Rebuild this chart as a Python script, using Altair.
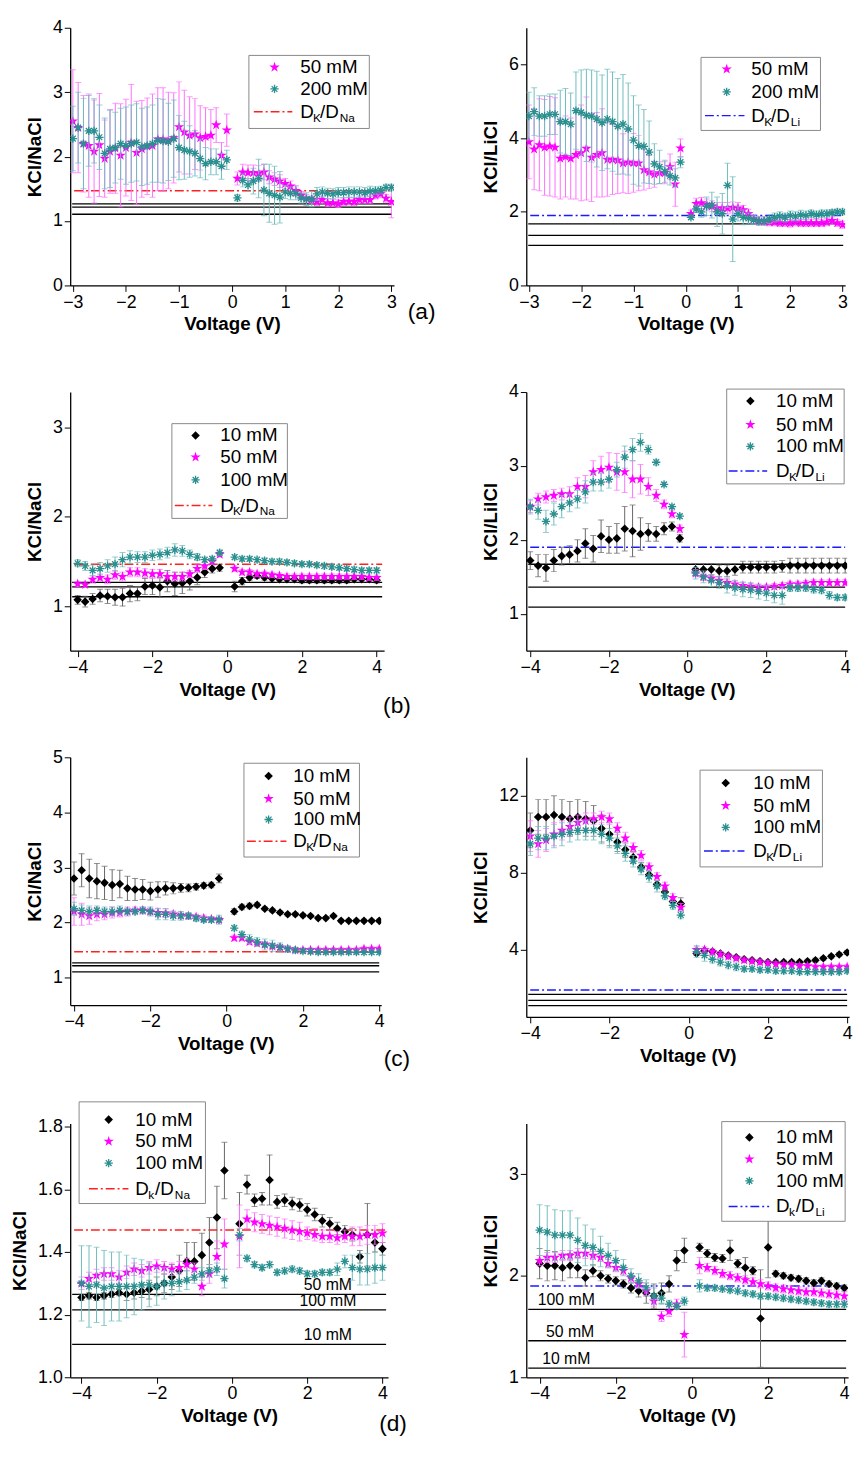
import altair as alt
import pandas as pd

# voltage samples
XA = [round(-3.0 + 0.1 * i, 1) for i in range(30)] + [round(0.1 + 0.1 * i, 1) for i in range(30)]
XB = [round(-4.0 + 0.2 * i, 1) for i in range(20)] + [round(0.2 + 0.2 * i, 1) for i in range(20)]

# ---- (a) KCl/NaCl
a_l_50 = [2.55, 2.45, 2.20, 2.17, 2.08, 2.18, 1.97, 2.08, 2.13, 2.02, 2.14, 2.22, 2.06, 2.12, 2.16,
          2.17, 2.27, 2.27, 2.25, 2.29, 2.46, 2.38, 2.33, 2.35, 2.29, 2.31, 2.33, 2.49, 2.02, 2.41,
          1.66, 1.76, 1.75, 1.75, 1.74, 1.76, 1.68, 1.65, 1.62, 1.58, 1.54, 1.47, 1.40, 1.35, 1.33,
          1.30, 1.33, 1.28, 1.28, 1.27, 1.30, 1.31, 1.30, 1.33, 1.33, 1.33, 1.40, 1.42, 1.35, 1.30]
a_l_50e = [0.80, 0.70, 0.75, 0.80, 0.80, 0.80, 0.60, 0.65, 0.70, 0.80, 0.75, 0.90, 0.80, 0.75, 0.75,
           0.80, 0.80, 0.80, 0.75, 0.70, 0.70, 0.65, 0.60, 0.55, 0.50, 0.45, 0.40, 0.27, 0.20, 0.25,
           0.10, 0.12, 0.12, 0.12, 0.12, 0.12, 0.10, 0.10, 0.10, 0.08, 0.08, 0.08, 0.06, 0.06, 0.06,
           0.06, 0.06, 0.06, 0.06, 0.06, 0.06, 0.06, 0.06, 0.06, 0.06, 0.06, 0.06, 0.06, 0.06, 0.25]
a_l_200 = [2.28, 2.45, 2.20, 2.40, 2.40, 2.30, 2.05, 2.12, 2.14, 2.20, 2.17, 2.20, 2.22, 2.15, 2.17,
           2.20, 2.25, 2.24, 2.23, 2.28, 2.14, 2.10, 2.08, 2.05, 1.97, 1.89, 1.92, 1.92, 1.85, 1.95,
           1.36, 1.63, 1.56, 1.62, 1.66, 1.48, 1.43, 1.40, 1.37, 1.45, 1.43, 1.43, 1.36, 1.34, 1.34,
           1.42, 1.45, 1.43, 1.42, 1.44, 1.44, 1.45, 1.45, 1.45, 1.44, 1.46, 1.47, 1.48, 1.52, 1.52]
a_l_200e = [0.50, 0.55, 0.70, 0.55, 0.50, 0.50, 0.55, 0.60, 0.55, 0.55, 0.60, 0.60, 0.60, 0.60, 0.60,
            0.60, 0.65, 0.65, 0.60, 0.60, 0.50, 0.45, 0.40, 0.35, 0.30, 0.25, 0.20, 0.20, 0.20, 0.15,
            0.05, 0.10, 0.10, 0.20, 0.30, 0.40, 0.45, 0.45, 0.40, 0.10, 0.10, 0.10, 0.08, 0.10, 0.12,
            0.10, 0.08, 0.08, 0.08, 0.08, 0.08, 0.08, 0.08, 0.08, 0.08, 0.08, 0.06, 0.06, 0.05, 0.05]
# ---- (a) KCl/LiCl
a_r_50 = [3.90, 3.70, 3.82, 3.75, 3.78, 3.75, 3.45, 3.50, 3.45, 3.55, 3.60, 3.72, 3.48, 3.55, 3.60,
          3.42, 3.42, 3.40, 3.32, 3.35, 3.33, 3.32, 3.14, 3.08, 3.02, 3.06, 3.06, 3.22, 2.75, 3.73,
          1.95, 2.22, 2.24, 2.20, 2.15, 2.10, 2.10, 2.10, 2.12, 2.10, 2.05, 1.95, 1.80, 1.76, 1.75,
          1.72, 1.72, 1.70, 1.70, 1.69, 1.72, 1.70, 1.70, 1.70, 1.70, 1.70, 1.72, 1.76, 1.70, 1.65]
a_r_50e = [1.00, 1.10, 1.25, 1.30, 1.35, 1.35, 1.10, 1.10, 1.10, 1.20, 1.30, 1.40, 1.20, 1.15, 1.20,
           1.00, 0.95, 0.90, 0.80, 0.85, 0.80, 0.75, 0.55, 0.45, 0.35, 0.30, 0.30, 0.35, 0.60, 0.25,
           0.10, 0.15, 0.15, 0.15, 0.15, 0.15, 0.15, 0.15, 0.15, 0.15, 0.12, 0.12, 0.12, 0.10, 0.10,
           0.10, 0.10, 0.10, 0.10, 0.10, 0.10, 0.10, 0.10, 0.10, 0.10, 0.10, 0.10, 0.10, 0.10, 0.10]
a_r_200 = [4.60, 4.72, 4.60, 4.60, 4.65, 4.65, 4.45, 4.45, 4.38, 4.75, 4.70, 4.62, 4.60, 4.52, 4.42,
           4.52, 4.45, 4.32, 4.38, 4.25, 3.95, 3.80, 3.78, 3.62, 3.30, 3.22, 3.10, 2.98, 2.92, 3.35,
           1.85, 2.08, 2.00, 2.15, 2.18, 2.00, 1.95, 2.72, 1.80, 1.95, 1.85, 1.82, 1.78, 1.75, 1.75,
           1.80, 1.85, 1.88, 1.85, 1.90, 1.88, 1.92, 1.90, 1.95, 1.92, 1.95, 1.95, 1.98, 2.00, 2.00]
a_r_200e = [0.65, 0.65, 0.55, 0.55, 0.55, 0.55, 0.85, 0.90, 0.85, 1.05, 1.15, 1.25, 1.25, 1.30, 1.30,
            1.35, 1.35, 1.30, 1.35, 1.25, 1.20, 1.10, 1.00, 0.85, 0.55, 0.45, 0.30, 0.25, 0.25, 0.15,
            0.05, 0.10, 0.15, 0.25, 0.35, 0.40, 0.55, 0.60, 1.15, 0.20, 0.20, 0.15, 0.12, 0.12, 0.12,
            0.12, 0.12, 0.12, 0.12, 0.12, 0.12, 0.12, 0.12, 0.10, 0.10, 0.10, 0.10, 0.08, 0.08, 0.08]

# ---- (b) KCl/NaCl
b_l_10 = [1.07, 1.05, 1.08, 1.12, 1.11, 1.10, 1.10, 1.14, 1.14, 1.22, 1.23, 1.21, 1.28, 1.25, 1.26,
          1.28, 1.32, 1.38, 1.42, 1.43, 1.22, 1.28, 1.32, 1.34, 1.32, 1.31, 1.30, 1.30, 1.30, 1.29,
          1.29, 1.29, 1.29, 1.29, 1.29, 1.29, 1.30, 1.30, 1.30, 1.29]
b_l_10e = [0.05, 0.06, 0.06, 0.07, 0.08, 0.09, 0.10, 0.09, 0.08, 0.09, 0.10, 0.11, 0.12, 0.13, 0.12,
           0.10, 0.08, 0.06, 0.05, 0.04, 0.06, 0.04, 0.03, 0.03, 0.03, 0.03, 0.03, 0.03, 0.03, 0.03,
           0.03, 0.03, 0.03, 0.03, 0.03, 0.03, 0.03, 0.03, 0.03, 0.03]
b_l_50 = [1.25, 1.24, 1.30, 1.32, 1.30, 1.35, 1.33, 1.38, 1.38, 1.37, 1.36, 1.36, 1.33, 1.33, 1.33,
          1.36, 1.42, 1.45, 1.50, 1.58, 1.42, 1.38, 1.38, 1.36, 1.36, 1.35, 1.34, 1.33, 1.33, 1.33,
          1.33, 1.33, 1.33, 1.33, 1.33, 1.33, 1.33, 1.33, 1.32, 1.32]
b_l_50e = [0.03, 0.03, 0.04, 0.04, 0.05, 0.05, 0.05, 0.05, 0.05, 0.05, 0.05, 0.05, 0.05, 0.05, 0.05,
           0.04, 0.04, 0.04, 0.03, 0.03, 0.03, 0.03, 0.03, 0.03, 0.03, 0.03, 0.03, 0.03, 0.03, 0.03,
           0.03, 0.03, 0.03, 0.03, 0.03, 0.03, 0.03, 0.03, 0.03, 0.03]
b_l_100 = [1.48, 1.45, 1.40, 1.42, 1.45, 1.47, 1.52, 1.55, 1.55, 1.55, 1.57, 1.58, 1.60, 1.63, 1.62,
           1.58, 1.55, 1.52, 1.53, 1.60, 1.55, 1.53, 1.53, 1.52, 1.51, 1.50, 1.50, 1.49, 1.48, 1.47,
           1.47, 1.46, 1.45, 1.44, 1.43, 1.42, 1.41, 1.40, 1.40, 1.40]
b_l_100e = [0.04, 0.05, 0.06, 0.07, 0.07, 0.08, 0.08, 0.07, 0.06, 0.06, 0.06, 0.06, 0.06, 0.07, 0.06,
            0.05, 0.04, 0.03, 0.03, 0.03, 0.03, 0.03, 0.03, 0.03, 0.03, 0.03, 0.03, 0.03, 0.03, 0.03,
            0.03, 0.03, 0.03, 0.03, 0.03, 0.03, 0.03, 0.03, 0.03, 0.03]
# ---- (b) KCl/LiCl
b_r_10 = [1.72, 1.65, 1.62, 1.72, 1.78, 1.80, 1.85, 1.95, 1.88, 2.05, 2.00, 2.02, 2.15, 2.12, 2.08,
          2.10, 2.08, 2.15, 2.18, 2.02, 1.60, 1.60, 1.60, 1.58, 1.58, 1.60, 1.63, 1.63, 1.63, 1.63,
          1.63, 1.64, 1.65, 1.65, 1.65, 1.65, 1.65, 1.65, 1.65, 1.65]
b_r_10e = [0.12, 0.15, 0.18, 0.15, 0.12, 0.12, 0.15, 0.20, 0.18, 0.22, 0.18, 0.20, 0.30, 0.35, 0.22,
           0.12, 0.10, 0.08, 0.06, 0.05, 0.08, 0.08, 0.08, 0.08, 0.08, 0.08, 0.08, 0.08, 0.08, 0.08,
           0.08, 0.08, 0.10, 0.10, 0.10, 0.10, 0.10, 0.10, 0.10, 0.10]
b_r_50 = [2.45, 2.55, 2.58, 2.60, 2.62, 2.62, 2.72, 2.72, 2.92, 2.95, 2.98, 2.92, 2.92, 2.82, 2.82,
          2.72, 2.60, 2.48, 2.35, 2.15, 1.55, 1.50, 1.48, 1.45, 1.42, 1.40, 1.38, 1.37, 1.36, 1.36,
          1.37, 1.38, 1.40, 1.40, 1.41, 1.42, 1.42, 1.42, 1.42, 1.42]
b_r_50e = [0.08, 0.08, 0.08, 0.08, 0.08, 0.10, 0.12, 0.15, 0.15, 0.18, 0.20, 0.25, 0.28, 0.25, 0.20,
           0.12, 0.08, 0.06, 0.05, 0.05, 0.05, 0.05, 0.05, 0.05, 0.04, 0.04, 0.04, 0.04, 0.04, 0.04,
           0.04, 0.04, 0.04, 0.04, 0.04, 0.04, 0.04, 0.04, 0.04, 0.04]
b_r_100 = [2.45, 2.40, 2.25, 2.35, 2.45, 2.50, 2.55, 2.65, 2.78, 2.78, 2.82, 2.95, 3.12, 3.22, 3.32,
           3.22, 3.05, 2.75, 2.45, 2.32, 1.55, 1.50, 1.45, 1.42, 1.38, 1.35, 1.33, 1.32, 1.30, 1.28,
           1.25, 1.25, 1.35, 1.35, 1.35, 1.33, 1.32, 1.25, 1.22, 1.22]
b_r_100e = [0.10, 0.12, 0.15, 0.15, 0.15, 0.12, 0.12, 0.15, 0.12, 0.12, 0.12, 0.10, 0.15, 0.15, 0.12,
            0.06, 0.04, 0.03, 0.03, 0.03, 0.08, 0.08, 0.08, 0.08, 0.10, 0.10, 0.10, 0.10, 0.10, 0.10,
            0.10, 0.12, 0.05, 0.05, 0.05, 0.05, 0.05, 0.05, 0.04, 0.04]

# ---- (c) KCl/NaCl
c_l_10 = [2.80, 2.95, 2.80, 2.75, 2.72, 2.68, 2.70, 2.62, 2.60, 2.60, 2.57, 2.60, 2.62, 2.62, 2.63,
          2.63, 2.65, 2.67, 2.68, 2.80, 2.20, 2.28, 2.30, 2.32, 2.25, 2.22, 2.18, 2.15, 2.15, 2.13,
          2.12, 2.08, 2.08, 2.12, 2.03, 2.03, 2.03, 2.03, 2.03, 2.03]
c_l_10e = [0.30, 0.30, 0.35, 0.32, 0.30, 0.28, 0.25, 0.22, 0.20, 0.18, 0.16, 0.14, 0.12, 0.10, 0.08,
           0.07, 0.06, 0.05, 0.05, 0.08, 0.05, 0.05, 0.05, 0.04, 0.03, 0.03, 0.03, 0.03, 0.03, 0.03,
           0.03, 0.03, 0.03, 0.03, 0.03, 0.03, 0.03, 0.03, 0.03, 0.03]
c_l_50 = [2.20, 2.15, 2.12, 2.15, 2.15, 2.18, 2.18, 2.20, 2.22, 2.22, 2.20, 2.18, 2.17, 2.15, 2.13,
          2.12, 2.10, 2.08, 2.06, 2.05, 1.72, 1.72, 1.65, 1.62, 1.60, 1.57, 1.55, 1.52, 1.50, 1.50,
          1.50, 1.50, 1.50, 1.50, 1.50, 1.50, 1.50, 1.52, 1.52, 1.52]
c_l_50e = [0.25, 0.20, 0.15, 0.12, 0.10, 0.10, 0.08, 0.08, 0.06, 0.06, 0.06, 0.08, 0.08, 0.06, 0.06,
           0.05, 0.05, 0.05, 0.05, 0.05, 0.05, 0.05, 0.05, 0.05, 0.05, 0.05, 0.05, 0.04, 0.04, 0.04,
           0.04, 0.04, 0.04, 0.04, 0.04, 0.04, 0.04, 0.04, 0.04, 0.04]
c_l_100 = [2.25, 2.22, 2.20, 2.22, 2.20, 2.20, 2.22, 2.20, 2.20, 2.22, 2.20, 2.15, 2.15, 2.12, 2.12,
           2.12, 2.08, 2.05, 2.05, 2.05, 1.90, 1.78, 1.70, 1.65, 1.60, 1.58, 1.55, 1.52, 1.50, 1.48,
           1.47, 1.46, 1.46, 1.46, 1.46, 1.46, 1.46, 1.46, 1.46, 1.46]
c_l_100e = [0.12, 0.10, 0.10, 0.08, 0.08, 0.08, 0.08, 0.06, 0.06, 0.06, 0.08, 0.10, 0.10, 0.08, 0.08,
            0.06, 0.06, 0.05, 0.05, 0.08, 0.05, 0.06, 0.08, 0.08, 0.10, 0.10, 0.08, 0.06, 0.05, 0.04,
            0.04, 0.04, 0.04, 0.04, 0.04, 0.04, 0.04, 0.04, 0.04, 0.04]
# ---- (c) KCl/LiCl
c_r_10 = [10.2, 10.9, 10.9, 11.0, 10.9, 10.8, 10.9, 10.8, 10.7, 10.3, 10.0, 9.6, 9.2, 8.8, 8.3,
          7.9, 7.4, 7.0, 6.5, 6.4, 3.8, 3.95, 3.9, 3.8, 3.7, 3.6, 3.5, 3.45, 3.4, 3.35,
          3.35, 3.35, 3.35, 3.35, 3.4, 3.45, 3.55, 3.65, 3.75, 3.85]
c_r_10e = [0.9, 0.9, 0.9, 1.0, 0.9, 0.9, 0.9, 0.9, 0.8, 0.7, 0.6, 0.5, 0.4, 0.3, 0.25,
           0.2, 0.2, 0.2, 0.2, 0.3, 0.1, 0.1, 0.1, 0.1, 0.1, 0.1, 0.1, 0.1, 0.1, 0.1,
           0.1, 0.1, 0.1, 0.1, 0.1, 0.1, 0.1, 0.1, 0.1, 0.1]
c_r_50 = [9.9, 9.5, 9.7, 10.0, 10.2, 10.4, 10.6, 10.7, 10.8, 10.9, 10.8, 10.3, 9.8, 9.3, 8.9,
          8.3, 7.8, 7.3, 6.7, 6.2, 4.0, 4.0, 3.9, 3.75, 3.65, 3.55, 3.45, 3.4, 3.35, 3.3,
          3.25, 3.2, 3.2, 3.15, 3.15, 3.1, 3.1, 3.1, 3.1, 3.1]
c_r_50e = [0.8, 0.7, 0.6, 0.6, 0.5, 0.5, 0.4, 0.4, 0.3, 0.3, 0.3, 0.3, 0.3, 0.25, 0.25,
           0.2, 0.2, 0.2, 0.2, 0.2, 0.15, 0.15, 0.15, 0.15, 0.12, 0.12, 0.12, 0.12, 0.12, 0.12,
           0.12, 0.12, 0.12, 0.12, 0.12, 0.12, 0.12, 0.12, 0.12, 0.12]
c_r_100 = [9.5, 9.8, 9.8, 9.9, 10.0, 10.1, 10.2, 10.2, 10.2, 10.0, 9.8, 9.4, 9.0, 8.6, 8.2,
           7.8, 7.3, 6.8, 6.3, 5.8, 3.9, 3.7, 3.5, 3.35, 3.2, 3.1, 3.0, 3.0, 2.95, 2.95,
           2.9, 2.9, 2.9, 2.85, 2.85, 2.85, 2.85, 2.85, 2.85, 2.9]
c_r_100e = [0.6, 0.6, 0.6, 0.6, 0.6, 0.5, 0.5, 0.5, 0.5, 0.5, 0.5, 0.4, 0.4, 0.3, 0.3,
            0.3, 0.3, 0.2, 0.2, 0.2, 0.3, 0.3, 0.2, 0.2, 0.2, 0.2, 0.15, 0.15, 0.15, 0.15,
            0.15, 0.15, 0.15, 0.15, 0.15, 0.15, 0.15, 0.15, 0.15, 0.15]

# ---- (d) KCl/NaCl
d_l_10 = [1.255, 1.26, 1.255, 1.26, 1.265, 1.27, 1.265, 1.27, 1.275, 1.28, 1.29, 1.30, 1.32, 1.34, 1.37,
          1.37, 1.39, 1.43, 1.51, 1.66, 1.49, 1.615, 1.565, 1.57, 1.63, 1.56, 1.565, 1.555, 1.55, 1.535,
          1.52, 1.50, 1.49, 1.475, 1.465, 1.455, 1.385, 1.455, 1.43, 1.41]
d_l_10e = [0.01, 0.01, 0.01, 0.01, 0.01, 0.01, 0.02, 0.02, 0.02, 0.03, 0.03, 0.03, 0.04, 0.05, 0.06,
           0.06, 0.07, 0.08, 0.10, 0.09, 0.10, 0.03, 0.02, 0.02, 0.08, 0.02, 0.02, 0.02, 0.02, 0.02,
           0.02, 0.02, 0.02, 0.02, 0.02, 0.02, 0.02, 0.10, 0.03, 0.02]
d_l_50 = [1.30, 1.315, 1.325, 1.33, 1.33, 1.32, 1.335, 1.345, 1.34, 1.35, 1.355, 1.35, 1.345, 1.35, 1.36,
          1.345, 1.29, 1.33, 1.385, 1.425, 1.45, 1.505, 1.495, 1.49, 1.485, 1.48, 1.475, 1.47, 1.465, 1.46,
          1.455, 1.45, 1.45, 1.445, 1.45, 1.45, 1.45, 1.455, 1.455, 1.46]
d_l_50e = [0.02, 0.02, 0.02, 0.02, 0.02, 0.02, 0.02, 0.02, 0.02, 0.02, 0.02, 0.02, 0.02, 0.02, 0.02,
           0.02, 0.03, 0.03, 0.05, 0.08, 0.10, 0.03, 0.03, 0.03, 0.03, 0.03, 0.03, 0.03, 0.03, 0.02,
           0.02, 0.02, 0.02, 0.02, 0.02, 0.03, 0.03, 0.03, 0.03, 0.03]
d_l_100 = [1.30, 1.29, 1.295, 1.285, 1.29, 1.29, 1.29, 1.29, 1.295, 1.295, 1.29, 1.30, 1.30, 1.305, 1.31,
           1.32, 1.33, 1.34, 1.345, 1.315, 1.455, 1.38, 1.36, 1.35, 1.36, 1.335, 1.34, 1.345, 1.34, 1.33,
           1.33, 1.335, 1.335, 1.345, 1.37, 1.35, 1.345, 1.345, 1.35, 1.35]
d_l_100e = [0.12, 0.13, 0.12, 0.12, 0.11, 0.11, 0.10, 0.09, 0.08, 0.07, 0.06, 0.05, 0.04, 0.03, 0.03,
            0.02, 0.02, 0.02, 0.02, 0.03, 0.02, 0.01, 0.01, 0.01, 0.01, 0.01, 0.01, 0.01, 0.01, 0.01,
            0.01, 0.01, 0.01, 0.02, 0.02, 0.04, 0.05, 0.05, 0.05, 0.04]
# ---- (d) KCl/LiCl
d_r_10 = [2.12, 2.10, 2.10, 2.08, 2.10, 2.08, 1.98, 2.05, 2.00, 1.97, 1.95, 1.92, 1.88, 1.85, 1.83,
          1.80, 1.83, 1.92, 2.15, 2.25, 2.28, 2.22, 2.18, 2.17, 2.25, 2.12, 2.08, 2.05, 1.58, 2.28,
          2.02, 2.00, 1.98, 1.97, 1.95, 1.93, 1.95, 1.92, 1.90, 1.88]
d_r_10e = [0.15, 0.15, 0.14, 0.13, 0.12, 0.10, 0.08, 0.06, 0.05, 0.04, 0.04, 0.04, 0.05, 0.06, 0.10,
           0.12, 0.10, 0.08, 0.10, 0.12, 0.04, 0.04, 0.04, 0.04, 0.10, 0.04, 0.10, 0.04, 0.48, 0.30,
           0.03, 0.03, 0.03, 0.03, 0.03, 0.03, 0.03, 0.03, 0.03, 0.03]
d_r_50 = [2.15, 2.18, 2.18, 2.20, 2.20, 2.22, 2.22, 2.20, 2.18, 2.12, 2.08, 2.05, 1.98, 1.92, 1.85,
          1.75, 1.60, 1.65, 1.72, 1.42, 2.10, 2.08, 2.05, 2.02, 2.00, 1.98, 1.96, 1.94, 1.92, 1.90,
          1.88, 1.87, 1.86, 1.85, 1.84, 1.84, 1.83, 1.82, 1.81, 1.80]
d_r_50e = [0.05, 0.05, 0.05, 0.05, 0.05, 0.05, 0.05, 0.04, 0.04, 0.04, 0.04, 0.04, 0.04, 0.04, 0.05,
           0.05, 0.05, 0.05, 0.05, 0.22, 0.08, 0.04, 0.04, 0.04, 0.04, 0.04, 0.04, 0.04, 0.04, 0.04,
           0.04, 0.04, 0.04, 0.04, 0.04, 0.04, 0.04, 0.04, 0.04, 0.04]
d_r_100 = [2.45, 2.43, 2.40, 2.40, 2.40, 2.35, 2.30, 2.28, 2.24, 2.20, 2.15, 2.08, 2.00, 1.95, 1.88,
           1.80, 1.78, 1.72, 1.70, 1.75, 1.90, 1.88, 1.88, 1.87, 1.86, 1.85, 1.83, 1.82, 1.80, 1.80,
           1.79, 1.78, 1.77, 1.76, 1.75, 1.74, 1.73, 1.72, 1.72, 1.72]
d_r_100e = [0.25, 0.26, 0.25, 0.24, 0.24, 0.22, 0.20, 0.18, 0.15, 0.12, 0.10, 0.08, 0.07, 0.07, 0.08,
            0.08, 0.06, 0.04, 0.03, 0.04, 0.06, 0.03, 0.03, 0.03, 0.03, 0.03, 0.03, 0.03, 0.03, 0.03,
            0.03, 0.03, 0.03, 0.03, 0.03, 0.03, 0.03, 0.03, 0.03, 0.03]

NA_LINES = [1.265, 1.215, 1.105]
LI_LINES = [1.67, 1.36, 1.09]
DK_NA = 1.47
DK_LI = 1.9

STAR = ("M0,-1L0.2245,-0.309L0.951,-0.309L0.363,0.118L0.588,0.809L0,0.382L-0.588,0.809"
        "L-0.363,0.118L-0.951,-0.309L-0.2245,-0.309Z")
ASTER = "M-1,0L1,0M0,-1L0,1M-0.7,-0.7L0.7,0.7M-0.7,0.7L0.7,-0.7"
STYLE = {
    "10 mM": dict(shape="diamond", color="black", ecolor="#666666", size=75, filled=True),
    "50 mM": dict(shape=STAR, color="#ff00ff", ecolor="#ff70ff", size=120, filled=True),
    "100 mM": dict(shape=ASTER, color="#2a8f8f", ecolor="#6fbcbc", size=70, filled=False),
    "200 mM": dict(shape=ASTER, color="#2a8f8f", ecolor="#6fbcbc", size=70, filled=False),
}
ONE = pd.DataFrame({"k": [0]})


def series_layers(xs, name, ys, errs, xsc, ysc):
    st = STYLE[name]
    df = pd.DataFrame({"x": xs, "y": ys,
                       "lo": [v - e for v, e in zip(ys, errs)],
                       "hi": [v + e for v, e in zip(ys, errs)]})
    base = alt.Chart(df)
    bar = base.mark_rule(color=st["ecolor"], strokeWidth=1, clip=True).encode(
        x=alt.X("x:Q", scale=xsc), y=alt.Y("lo:Q", scale=ysc), y2="hi:Q")
    cap_lo = base.mark_tick(color=st["ecolor"], orient="horizontal", size=6, thickness=1, clip=True).encode(
        x=alt.X("x:Q", scale=xsc), y=alt.Y("lo:Q", scale=ysc))
    cap_hi = base.mark_tick(color=st["ecolor"], orient="horizontal", size=6, thickness=1, clip=True).encode(
        x=alt.X("x:Q", scale=xsc), y=alt.Y("hi:Q", scale=ysc))
    pt = base.mark_point(shape=st["shape"], size=st["size"], filled=st["filled"], color=st["color"],
                         opacity=1, strokeWidth=1.3, clip=True).encode(
        x=alt.X("x:Q", scale=xsc), y=alt.Y("y:Q", scale=ysc))
    return [bar, cap_lo, cap_hi, pt]


def legend_layers(box, rows, ref_label, ref_color, ref_dash):
    x0, y0, x1, y1, sx, tx, ys, lx0, lx1 = box
    out = [alt.Chart(ONE).mark_rect(fill="white", stroke="#888888", strokeWidth=1).encode(
        x=alt.value(x0), x2=alt.value(x1), y=alt.value(y0), y2=alt.value(y1))]
    for name, yy in zip(rows, ys):
        st = STYLE[name]
        out.append(alt.Chart(ONE).mark_point(shape=st["shape"], size=st["size"], filled=st["filled"],
                                             color=st["color"], opacity=1, strokeWidth=1.3).encode(
            x=alt.value(sx), y=alt.value(yy)))
        out.append(alt.Chart(ONE).mark_text(align="left", baseline="middle", fontSize=19).encode(
            x=alt.value(tx), y=alt.value(yy), text=alt.value(name)))
    yy = ys[len(rows)]
    out.append(alt.Chart(ONE).mark_rule(color=ref_color, strokeDash=ref_dash, strokeWidth=1.5).encode(
        x=alt.value(lx0), x2=alt.value(lx1), y=alt.value(yy)))
    k, ion = ref_label
    parts = [("D", 0, 0, 19), (k, 13, 6, 12), ("/D", 20, 0, 19), (ion, 40, 6, 12)]
    for txt, dx, dy, fs in parts:
        out.append(alt.Chart(ONE).mark_text(align="left", baseline="middle", fontSize=fs).encode(
            x=alt.value(tx + dx), y=alt.value(yy + dy), text=alt.value(txt)))
    return out


def panel(xs, series, xdom, ydom, w, h, ytitle, yticks, xticks, ref, ref_color, ref_dash,
          hlines, box, ref_label, tag=None, yfmt="d", line_labels=None):
    xsc = alt.Scale(domain=xdom, nice=False, zero=False)
    ysc = alt.Scale(domain=ydom, nice=False, zero=False)
    layers = []
    ax = alt.Chart(ONE).mark_point(opacity=0).encode(
        x=alt.X("k:Q", scale=xsc, axis=alt.Axis(values=xticks, title="Voltage (V)", format="d")),
        y=alt.Y("k:Q", scale=ysc, axis=alt.Axis(values=yticks, title=ytitle, format=yfmt)))
    layers.append(ax)
    hl = pd.DataFrame({"y": hlines})
    layers.append(alt.Chart(hl).mark_rule(color="black", strokeWidth=1.3).encode(
        y=alt.Y("y:Q", scale=ysc), x=alt.value(2), x2=alt.value(w - 2)))
    layers.append(alt.Chart(pd.DataFrame({"y": [ref]})).mark_rule(
        color=ref_color, strokeDash=ref_dash, strokeWidth=1.5).encode(
        y=alt.Y("y:Q", scale=ysc), x=alt.value(4), x2=alt.value(w - 2)))
    if line_labels:
        ll = pd.DataFrame(line_labels, columns=["x", "y", "t"])
        layers.append(alt.Chart(ll).mark_text(fontSize=16, baseline="bottom", dy=-1).encode(
            x=alt.X("x:Q", scale=xsc), y=alt.Y("y:Q", scale=ysc), text="t:N"))
    for name, ys, errs in series:
        layers += series_layers(xs, name, ys, errs, xsc, ysc)
    layers += legend_layers(box, [s[0] for s in series], ref_label, ref_color, ref_dash)
    if tag:
        layers.append(alt.Chart(ONE).mark_text(fontSize=23, align="center", baseline="middle").encode(
            x=alt.value(tag[1]), y=alt.value(tag[2]), text=alt.value(tag[0])))
    return alt.layer(*layers).properties(width=w, height=h)


DASH_DOT = [9, 3, 2, 3]
DASH_DOT_DOT = [9, 3, 2, 3, 2, 3]
X4 = [-4, -2, 0, 2, 4]

pa_l = panel(XA, [("50 mM", a_l_50, a_l_50e), ("200 mM", a_l_200, a_l_200e)],
             [-3.05, 3.05], [0, 4], 328, 261, "KCl/NaCl", [0, 1, 2, 3, 4], [-3, -2, -1, 0, 1, 2, 3],
             DK_NA, "#ff2020", DASH_DOT, NA_LINES,
             (181, 28, 303, 102, 207, 233, [40, 62, 85], 186, 225), ("K", "Na"), tag=("(a)", 356, 288))
pa_r = panel(XA, [("50 mM", a_r_50, a_r_50e), ("200 mM", a_r_200, a_r_200e)],
             [-3.05, 3.05], [0, 7], 323, 261, "KCl/LiCl", [0, 2, 4, 6], [-3, -2, -1, 0, 1, 2, 3],
             DK_LI, "#1a1aff", DASH_DOT, LI_LINES,
             (177, 30, 298, 104, 203, 228, [42, 65, 89], 181, 221), ("K", "Li"))
pb_l = panel(XB, [("10 mM", b_l_10, b_l_10e), ("50 mM", b_l_50, b_l_50e), ("100 mM", b_l_100, b_l_100e)],
             [-4.2, 4.2], [0.5, 3.4], 318, 262, "KCl/NaCl", [1, 2, 3], X4,
             DK_NA, "#ff2020", DASH_DOT, NA_LINES,
             (103, 32, 220, 128, 127, 152, [44, 66, 89, 115], 106, 144), ("K", "Na"), tag=("(b)", 331, 318))
pb_r = panel(XB, [("10 mM", b_r_10, b_r_10e), ("50 mM", b_r_50, b_r_50e), ("100 mM", b_r_100, b_r_100e)],
             [-4.1, 4.05], [0.5, 4], 325, 262, "KCl/LilCl", [1, 2, 3, 4], X4,
             DK_LI, "#1a1aff", DASH_DOT, LI_LINES,
             (203, -3, 322, 93, 227, 253, [9, 33, 55, 80], 205, 244), ("K", "Li"))
pc_l = panel(XB, [("10 mM", c_l_10, c_l_10e), ("50 mM", c_l_50, c_l_50e), ("100 mM", c_l_100, c_l_100e)],
             [-4.1, 4.05], [0.5, 5], 315, 251, "KCl/NaCl", [1, 2, 3, 4, 5], X4,
             DK_NA, "#ff2020", DASH_DOT, NA_LINES,
             (176, 6, 293, 101, 201, 226, [19, 42, 63, 85], 179, 219), ("K", "Na"), tag=("(c)", 331, 306))
pc_r = panel(XB, [("10 mM", c_r_10, c_r_10e), ("50 mM", c_r_50, c_r_50e), ("100 mM", c_r_100, c_r_100e)],
             [-4.1, 4.05], [0.5, 14], 327, 263, "KCl/LiCl", [4, 8, 12], X4,
             DK_LI, "#1a1aff", DASH_DOT, LI_LINES,
             (176, 13, 300, 111, 202, 230, [26, 49, 71, 95], 180, 221), ("K", "Li"))
pd_l = panel(XB, [("10 mM", d_l_10, d_l_10e), ("50 mM", d_l_50, d_l_50e), ("100 mM", d_l_100, d_l_100e)],
             [-4.3, 4.15], [1.0, 1.81], 322, 257, "KCl/NaCl", [1.0, 1.2, 1.4, 1.6, 1.8], X4,
             DK_NA, "#ff2020", DASH_DOT, NA_LINES,
             (9, -22, 137, 81, 39, 66, [-4, 18, 40, 66], 19, 59), ("k", "Na"), tag=("(d)", 327, 304),
             yfmt=".1f", line_labels=[(2.55, 1.265, "50 mM"), (2.55, 1.215, "100 mM"), (2.55, 1.105, "10 mM")])
pd_r = panel(XB, [("10 mM", d_r_10, d_r_10e), ("50 mM", d_r_50, d_r_50e), ("100 mM", d_r_100, d_r_100e)],
             [-4.35, 4.1], [1, 3.5], 326, 257, "KCl/LiCl", [1, 2, 3], X4,
             DK_LI, "#1a1aff", DASH_DOT_DOT, LI_LINES,
             (198, -2, 323, 99, 226, 253, [14, 36, 58, 84], 205, 248), ("k", "Li"),
             line_labels=[(-3.3, 1.67, "100 mM"), (-3.2, 1.36, "50 mM"), (-3.3, 1.09, "10 mM")])

chart = alt.concat(
    pa_l, pa_r, pb_l, pb_r, pc_l, pc_r, pd_l, pd_r,
    columns=2, spacing={"row": 108, "column": 134}, bounds="flush",
).properties(padding={"left": 2, "top": 0, "right": 5, "bottom": 5}).configure(
    font="Liberation Sans"
).configure_view(stroke=None).configure_axis(
    grid=False, domainColor="black", tickColor="black", labelColor="black", titleColor="black",
    labelFontSize=18, titleFontSize=19, titleFontWeight="bold", tickSize=6, domainWidth=1.3,
    labelFont="Liberation Sans", titleFont="Liberation Sans"
).configure_axisY(titlePadding=8)

chart.save("out.html", embed_options={"renderer": "svg", "actions": False})
